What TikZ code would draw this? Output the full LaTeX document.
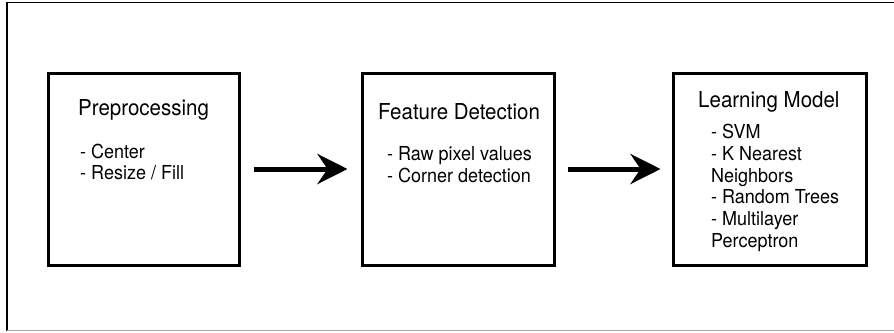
\documentclass[tikz,border=0pt]{standalone}
\usepackage{fontspec}
\setmainfont{TeX Gyre Heros}
\usetikzlibrary{arrows.meta}
% slightly tall lettering
\newcommand\tallText[1]{\scalebox{1}[1.07]{#1}}
\begin{document}
\begin{tikzpicture}[x=1pt,y=-1pt,
  stage/.style={draw, line width=3pt, inner sep=0pt},
  title/.style={anchor=base west, inner sep=0pt, font=\fontsize{20.5}{24}\selectfont},
  item/.style={anchor=base west, inner sep=0pt, font=\fontsize{18}{21}\selectfont},
  flow/.style={line width=5pt, -{Stealth[length=30pt,width=30pt,inset=10pt]}}]
\useasboundingbox (0,0) rectangle (894,332);
% frame
\draw[line width=1.5pt] (7,331) -- (7,2.5) -- (894,2.5);
\draw[black!35, line width=1.5pt] (7,330.5) -- (894,330.5);

% stages
\node[stage, minimum width=191pt, minimum height=192pt] (pre)  at (143.5,169) {};
\node[stage, minimum width=192pt, minimum height=192pt] (feat) at (458,169) {};
\node[stage, minimum width=193pt, minimum height=192pt] (learn) at (769.5,169) {};

% flow arrows
\draw[flow] ([xshift=13pt]pre.east) -- ([xshift=-13pt]feat.west);
\draw[flow] ([xshift=12pt]feat.east) -- ([xshift=-11pt]learn.west);

% preprocessing
\node[title] (preT) at (78,115) {\tallText{Preprocessing}};
\node[item] (preA) at (80,158) {\tallText{- Center}};
\node[item] (preB) at (80,179) {\tallText{- Resize / Fill}};

% feature detection
\node[title] (featT) at (378,119) {\tallText{Feature Detection}};
\node[item] (featA) at (387,160) {\tallText{- Raw pixel values}};
\node[item] (featB) at (387,182) {\tallText{- Corner detection}};

% learning model
\node[title] (learnT) at (698,107) {\tallText{Learning Model}};
\node[item] (learnA) at (711,138) {\tallText{- SVM}};
\node[item] (learnB) at (711,160) {\tallText{- K Nearest}};
\node[item] (learnC) at (711,182) {\tallText{Neighbors}};
\node[item] (learnD) at (711,203) {\tallText{- Random Trees}};
\node[item] (learnE) at (711,225) {\tallText{- Multilayer}};
\node[item] (learnF) at (711,247) {\tallText{Perceptron}};
\end{tikzpicture}
\end{document}
